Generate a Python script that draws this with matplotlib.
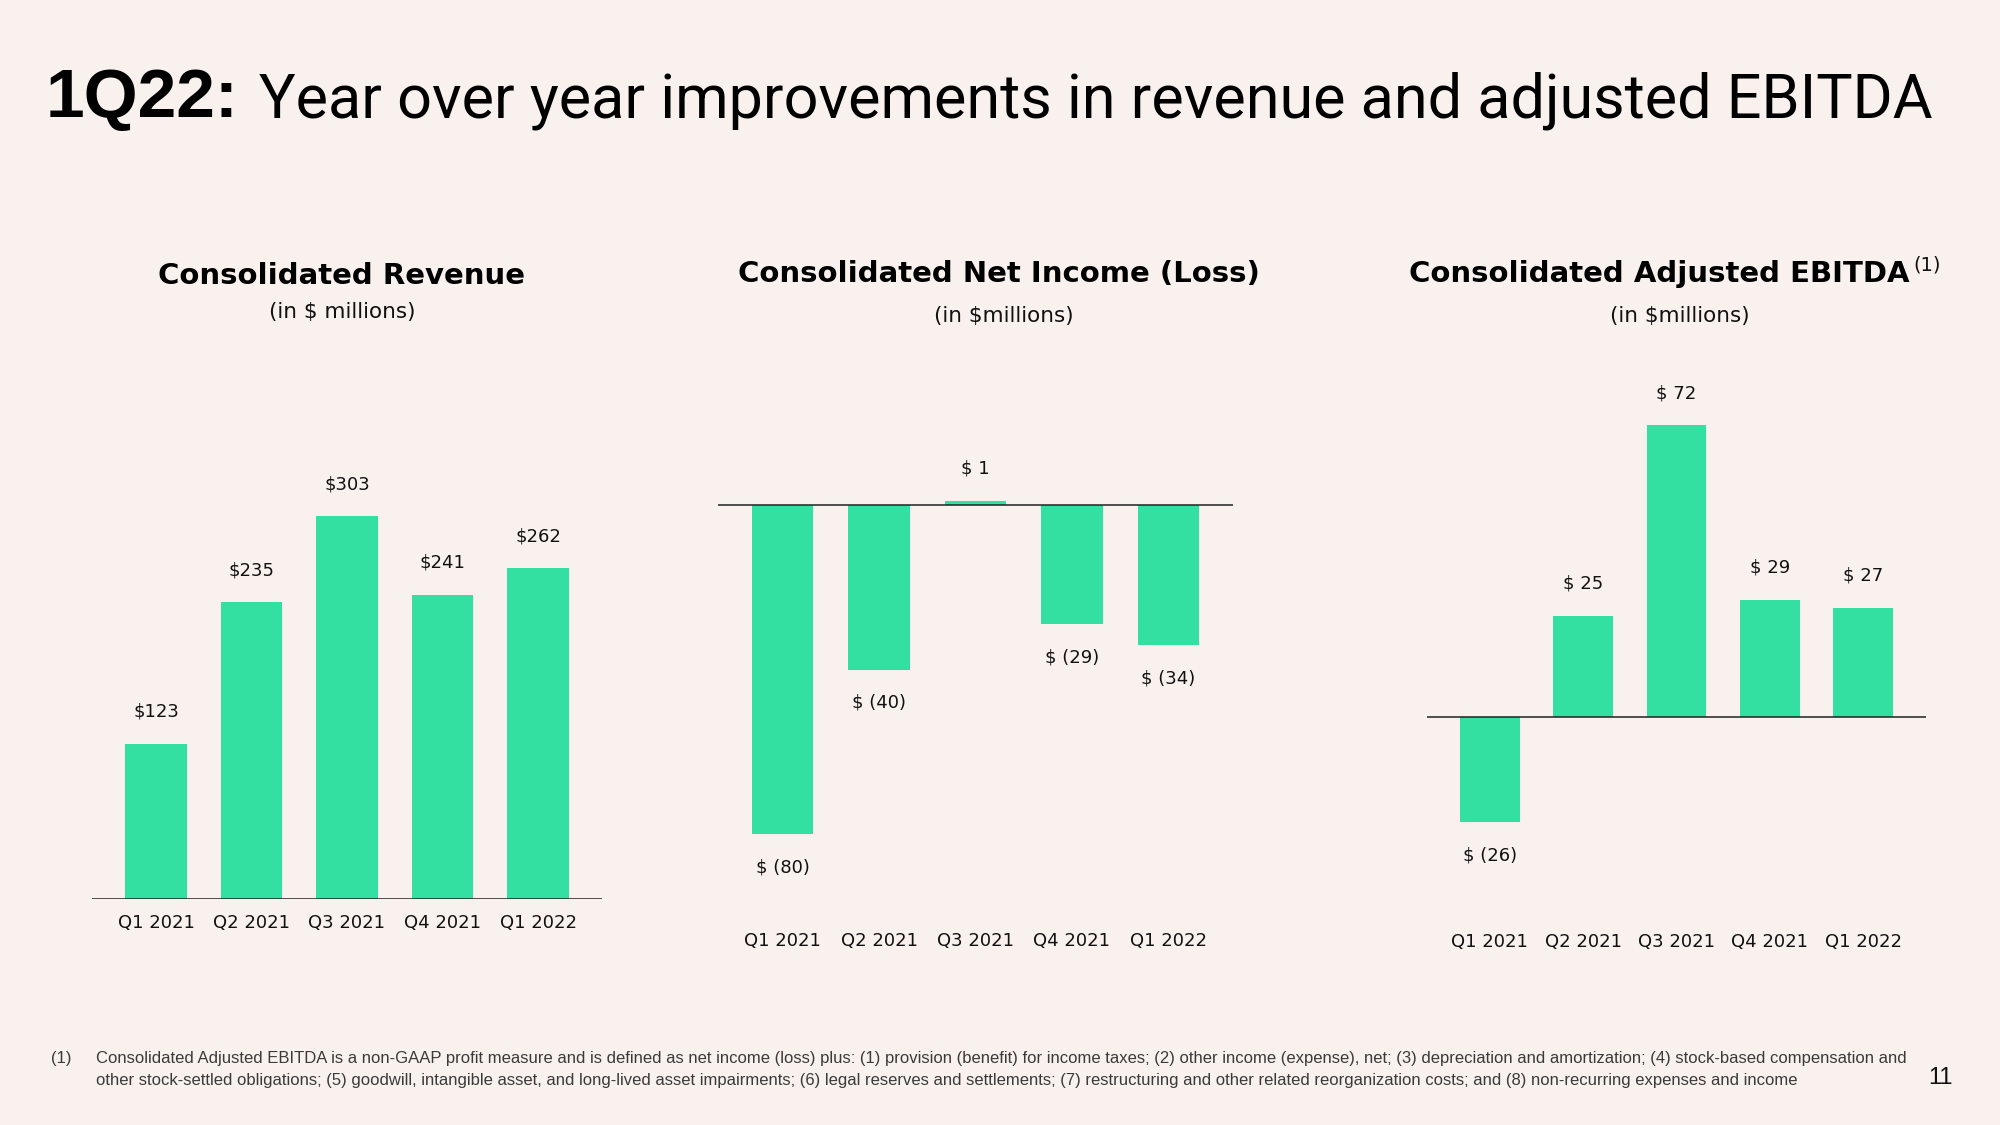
import matplotlib
matplotlib.use("Agg")
import matplotlib.pyplot as plt
import numpy as np

# data
quarters = ["Q1 2021", "Q2 2021", "Q3 2021", "Q4 2021", "Q1 2022"]
revenue = [123, 235, 303, 241, 262]
net_income = [-80, -40, 1, -29, -34]
adj_ebitda = [-26, 25, 72, 29, 27]

revenue_labels = ["$123", "$235", "$303", "$241", "$262"]
net_income_labels = ["$ (80)", "$ (40)", "$ 1", "$ (29)", "$ (34)"]
ebitda_labels = ["$ (26)", "$ 25", "$ 72", "$ 29", "$ 27"]

BG = "#F9F1ED"
GREEN = "#34E0A1"
W, H = 2000, 1125

fig = plt.figure(figsize=(20, 11.25), dpi=100, facecolor=BG)


def box(l, t, r, b):
    # pixel box (top-left origin) -> figure fraction
    return [l / W, 1 - b / H, (r - l) / W, (b - t) / H]


def panel(rect, vals, labels, ylim, zero_line=True):
    ax = fig.add_axes(rect)
    ax.set_facecolor(BG)
    x = np.arange(len(vals))
    ax.bar(x, vals, width=0.64, color=GREEN, zorder=2)
    ax.set_xlim(-0.67, 4.67)
    ax.set_ylim(*ylim)
    for s in ax.spines.values():
        s.set_visible(False)
    ax.set_yticks([])
    ax.set_xticks(x, quarters, fontsize=13, family="DejaVu Sans", color="#111111")
    ax.tick_params(axis="x", length=0, pad=11)
    if zero_line:
        ax.axhline(0, color="#222222", lw=1.1, zorder=3)
    for xi, v, lab in zip(x, vals, labels):
        off = 23 if v >= 0 else -24
        ax.annotate(lab, (xi, v), xytext=(0, off), textcoords="offset points",
                    ha="center", va="center", fontsize=13, family="DejaVu Sans",
                    color="#111111")
    return ax


# revenue: baseline at y=899px, 1.263 px per $m
panel(box(92, 420, 602, 899), revenue, revenue_labels, (0, 479 / 1.263))
# net income: zero at 505px, 4.113 px per $m
panel(box(718, 420, 1233, 917), net_income, net_income_labels,
      (-(917 - 505) / 4.113, (505 - 420) / 4.113))
# adjusted EBITDA: zero at 717px, 4.05 px per $m
panel(box(1427, 380, 1926, 918), adj_ebitda, ebitda_labels,
      (-(918 - 717) / 4.05, (717 - 380) / 4.05))


def ft(x, y, s, **kw):
    fig.text(x / W, 1 - y / H, s, **kw)


# headline
ft(46, 117, "1Q22:", fontsize=50, fontweight="bold", family="Liberation Sans",
   va="baseline", color="black")
ft(259, 117, "Year over year improvements in revenue and adjusted EBITDA",
   fontsize=44, family="Roboto", va="baseline", color="black")

# panel titles
tkw = dict(fontsize=21, fontweight="bold", family="DejaVu Sans", ha="center",
           va="center", color="black")
skw = dict(fontsize=15.5, family="DejaVu Sans", ha="center", va="center",
           color="#111111")
ft(342, 276, "Consolidated Revenue", **tkw)
ft(342, 312, "(in $ millions)", **skw)
ft(999, 274, "Consolidated Net Income (Loss)", **tkw)
ft(1004, 316, "(in $millions)", **skw)
ft(1659, 274, "Consolidated Adjusted EBITDA", **tkw)
ft(1927, 265, "(1)", fontsize=14, family="DejaVu Sans", ha="center",
   va="center", color="#111111")
ft(1680, 316, "(in $millions)", **skw)

# footnote
fkw = dict(fontsize=12, family="Liberation Sans", va="center", color="#3a3a3a")
ft(51, 1059, "(1)", **fkw)
ft(96, 1059, "Consolidated Adjusted EBITDA is a non-GAAP profit measure and is defined as net income (loss) plus: "
   "(1) provision (benefit) for income taxes; (2) other income (expense), net; (3) depreciation and "
   "amortization; (4) stock-based compensation and", **fkw)
ft(96, 1080, "other stock-settled obligations; (5) goodwill, intangible asset, and long-lived asset impairments; "
   "(6) legal reserves and settlements; (7) restructuring and other related reorganization costs; and "
   "(8) non-recurring expenses and income", **fkw)
ft(1941, 1078, "11", fontsize=17, family="Liberation Sans", ha="center",
   va="center", color="#111111")

fig.savefig("out.png", dpi=100, facecolor=BG)
